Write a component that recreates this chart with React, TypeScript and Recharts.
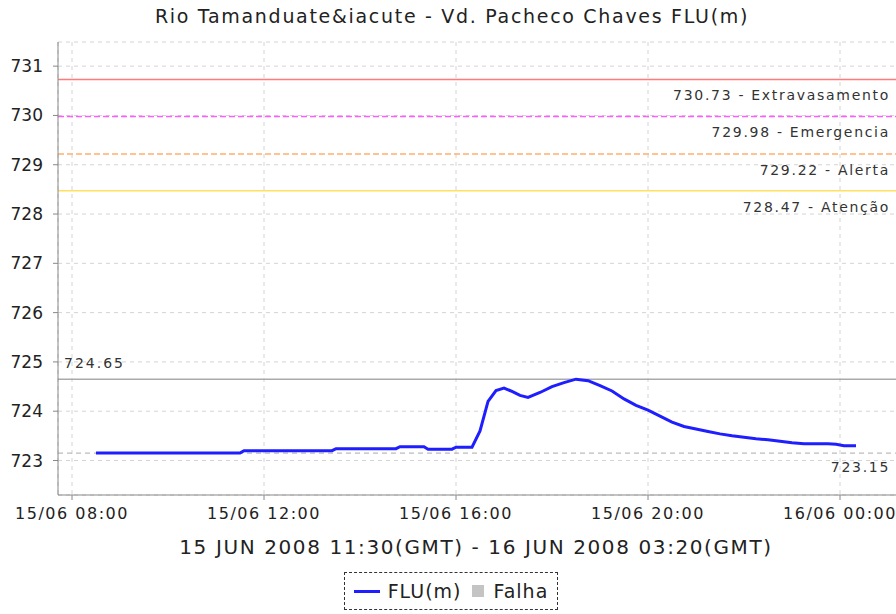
import React from "react";
import { LineChart, Line, XAxis, YAxis, CartesianGrid, ReferenceLine } from "recharts";

// horário em horas desde 15/06 00:00 (24 = 16/06 00:00)
const horas = [
  8.5, 11.5, 11.583, 13.417, 13.5, 14.75, 14.833, 15.333, 15.417, 15.917, 16.0, 16.333,
  16.5, 16.667, 16.833, 17.0, 17.167, 17.333, 17.5, 17.75, 18.0, 18.25, 18.5, 18.75,
  19.0, 19.25, 19.5, 19.75, 20.0, 20.25, 20.5, 20.75, 21.0, 21.25, 21.5, 21.75, 22.0,
  22.25, 22.5, 22.75, 23.0, 23.25, 23.5, 23.75, 23.917, 24.083, 24.333,
];
const nivel = [
  723.15, 723.15, 723.2, 723.2, 723.24, 723.24, 723.28, 723.28, 723.23, 723.23, 723.27, 723.27,
  723.6, 724.2, 724.42, 724.47, 724.4, 724.32, 724.28, 724.38, 724.5, 724.58, 724.65, 724.62,
  724.52, 724.41, 724.25, 724.12, 724.02, 723.9, 723.78, 723.69, 723.64, 723.59, 723.54, 723.5, 723.47,
  723.44, 723.42, 723.39, 723.36, 723.34, 723.34, 723.34, 723.33, 723.3, 723.3,
];

const ticksX = [8, 12, 16, 20, 24];
const rotulosX = ["15/06 08:00", "15/06 12:00", "15/06 16:00", "15/06 20:00", "16/06 00:00"];
const ticksY = [723, 724, 725, 726, 727, 728, 729, 730, 731];

const limiaresValor = [730.73, 729.98, 729.22, 728.47];
const limiaresNome = ["Extravasamento", "Emergencia", "Alerta", "Atenção"];
const limiaresCor = ["#ff7a7a", "#ff5cff", "#ffb070", "#ffe060"];
const limiaresTraco = ["", "6 3", "6 3", ""];

const nivelMax = 724.65;
const nivelMin = 723.15;

const legendaNomes = ["FLU(m)", "Falha"];

const dados = horas.map((h, i) => ({ hora: h, nivel: nivel[i] }));

const dominioX: [number, number] = [7.708, 25.208];
const dominioY: [number, number] = [722.3, 731.49];

const fonte = "'DejaVu Sans', sans-serif";

function rotuloDireita(texto: string, dy: number) {
  return (props: any) => {
    const vb = props.viewBox;
    return (
      <text
        x={vb.x + vb.width - 8}
        y={vb.y + dy}
        textAnchor="end"
        fontSize={14}
        letterSpacing={1.7}
        fill="#333"
        fontFamily={fonte}
      >
        {texto}
      </text>
    );
  };
}

function rotuloEsquerda(texto: string, dy: number) {
  return (props: any) => {
    const vb = props.viewBox;
    return (
      <text x={vb.x + 6} y={vb.y + dy} fontSize={14} letterSpacing={2} fill="#333" fontFamily={fonte}>
        {texto}
      </text>
    );
  };
}

function legendaEixoX(props: any) {
  const vb = props.viewBox;
  return (
    <text
      x={vb.x + vb.width / 2 - 2}
      y={vb.y + 59}
      textAnchor="middle"
      fontSize={20}
      letterSpacing={1.6}
      fill="#222"
      fontFamily={fonte}
    >
      15 JUN 2008 11:30(GMT) - 16 JUN 2008 03:20(GMT)
    </text>
  );
}

export default function App() {
  return (
    <div
      style={{
        position: "absolute",
        left: 0,
        top: 0,
        width: 896,
        height: 614,
        overflow: "hidden",
        background: "#fff",
        fontFamily: fonte,
      }}
    >
      <div
        style={{
          position: "absolute",
          left: 0,
          width: 904,
          top: 5,
          textAlign: "center",
          fontSize: 19,
          letterSpacing: 1.7,
          color: "#222",
        }}
      >
        Rio Tamanduate&amp;iacute - Vd. Pacheco Chaves FLU(m)
      </div>
      <LineChart width={900} height={614} data={dados} margin={{ top: 42, right: 2, left: 0, bottom: 0 }}>
        <CartesianGrid strokeDasharray="4 4" stroke="#d4d4d4" />
        <XAxis
          dataKey="hora"
          type="number"
          domain={dominioX}
          ticks={ticksX}
          allowDataOverflow
          tickFormatter={(v: number) => rotulosX[ticksX.indexOf(v)]}
          height={119}
          tickSize={5}
          tickMargin={8}
          stroke="#888"
          tick={{ fill: "#222", fontSize: 16, letterSpacing: 1.5, fontFamily: fonte }}
          label={legendaEixoX}
        />
        <XAxis
          xAxisId="topo"
          type="number"
          orientation="top"
          domain={dominioX}
          allowDataOverflow
          tick={false}
          tickLine={false}
          height={0}
          stroke="#888"
        />
        <YAxis
          type="number"
          domain={dominioY}
          ticks={ticksY}
          allowDataOverflow
          width={58}
          tickSize={5}
          tickMargin={10}
          stroke="#888"
          tick={{ fill: "#222", fontSize: 17, fontFamily: fonte }}
        />
        {limiaresValor.map((v, i) => (
          <ReferenceLine
            key={limiaresNome[i]}
            y={v}
            stroke={limiaresCor[i]}
            strokeWidth={1.5}
            strokeDasharray={limiaresTraco[i] || undefined}
            label={rotuloDireita(`${v.toFixed(2)} - ${limiaresNome[i]}`, 21)}
          />
        ))}
        <ReferenceLine y={nivelMax} stroke="#aaa" strokeWidth={1.5} label={rotuloEsquerda(nivelMax.toFixed(2), -11)} />
        <ReferenceLine
          y={nivelMin}
          stroke="#aaa"
          strokeWidth={1}
          strokeDasharray="5 4"
          label={rotuloDireita(nivelMin.toFixed(2), 19)}
        />
        <Line
          type="linear"
          dataKey="nivel"
          stroke="#1e1eff"
          strokeWidth={3}
          dot={false}
          isAnimationActive={false}
        />
      </LineChart>
      <div
        style={{
          position: "absolute",
          left: 344,
          top: 572,
          width: 212,
          height: 36,
          border: "1px dashed #333",
          display: "flex",
          alignItems: "center",
          justifyContent: "center",
          fontSize: 19,
          letterSpacing: 1,
          color: "#222",
        }}
      >
        <span style={{ display: "inline-block", width: 26, height: 3, background: "#1e1eff", marginRight: 8 }} />
        <span>{legendaNomes[0]}</span>
        <span
          style={{ display: "inline-block", width: 12, height: 12, background: "#c4c4c4", marginLeft: 10, marginRight: 10 }}
        />
        <span>{legendaNomes[1]}</span>
      </div>
    </div>
  );
}
